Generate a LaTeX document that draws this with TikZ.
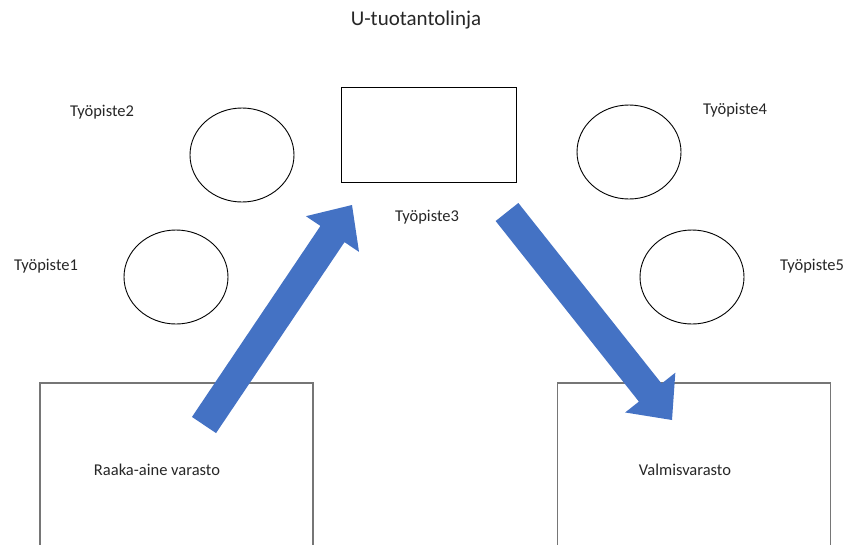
\documentclass[tikz,border=0pt]{standalone}
\usepackage{fontspec}
\setmainfont{Carlito}
\usetikzlibrary{shapes.geometric,calc}
\definecolor{flowblue}{RGB}{68,114,196}
\definecolor{boxgray}{RGB}{118,118,118}
\tikzset{
 station/.style={draw,ellipse,line width=0.9pt,minimum width=104pt,minimum height=94pt,
             inner sep=0pt},
 cell/.style={draw,line width=1.3pt,minimum width=175pt,minimum height=95pt,inner sep=0pt},
 store/.style={draw=boxgray,line width=1.6pt,minimum width=273pt,minimum height=174pt,
             inner sep=0pt},
 lbl/.style={text=black!85,font=\fontsize{16.5}{18}\selectfont,inner sep=0pt},
 title/.style={text=black!85,font=\fontsize{21}{24}\selectfont,inner sep=0pt},
 flow/.style={fill=flowblue,draw=none}
}

\begin{document}
\begin{tikzpicture}[x=1pt,y=-1pt]
\useasboundingbox (0,0) rectangle (853,544);
\clip (0,0) rectangle (853,544);
\node[title] (head) at (416,20) {U-tuotantolinja};
% work stations
\node[station] (ws1) at (176,277) {};
\node[station] (ws2) at (242,155) {};
\node[cell] (ws3) at (429,135) {};
\node[station] (ws4) at (629,152) {};
\node[station] (ws5) at (692,277) {};
\node[lbl] (ws1txt) at (46,266) {Työpiste1};
\node[lbl] (ws2txt) at (102,112) {Työpiste2};
\node[lbl] (ws3txt) at (427,217) {Työpiste3};
\node[lbl] (ws4txt) at (735,110) {Työpiste4};
\node[lbl] (ws5txt) at (812,266) {Työpiste5};
% stores
\node[store] (raw) at (176.5,470) {};
\node[store] (done) at (694,470) {};
\node[lbl] (rawtxt) at (157,470) {Raaka-aine varasto};
\node[lbl] (donetxt) at (685,470) {Valmisvarasto};
% flow arrows
\coordinate (rawtail) at (204,425);
\coordinate (rawtip) at (352,205);
\coordinate (donetail) at (507,212);
\coordinate (donetip) at (672,420);
\foreach \t/\h in {rawtail/rawtip,donetail/donetip}{
 \coordinate (hb) at ($(\h)!35pt!(\t)$);
 \fill[flow] ($(\t)!14.5pt!90:(\h)$) -- ($(hb)!14.5pt!-90:(\t)$) -- ($(hb)!32pt!-90:(\t)$)
   -- (\h) -- ($(hb)!32pt!90:(\t)$) -- ($(hb)!14.5pt!90:(\t)$)
   -- ($(\t)!14.5pt!-90:(\h)$) -- cycle;
}
\end{tikzpicture}
\end{document}
